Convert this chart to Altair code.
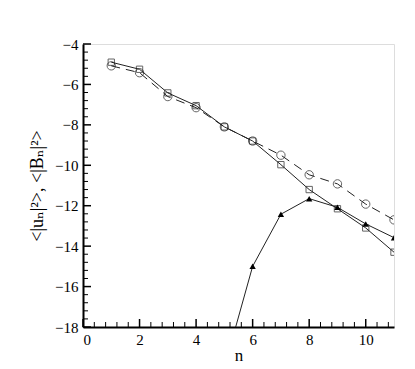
import altair as alt
import pandas as pd

n_vals = [1, 2, 3, 4, 5, 6, 7, 8, 9, 10, 11]
sq_vals = [-4.9, -5.25, -6.42, -7.05, -8.1, -8.8, -9.97, -11.2, -12.15, -13.1, -14.3]
ci_vals = [-5.08, -5.42, -6.6, -7.15, -8.1, -8.8, -9.5, -10.47, -10.92, -11.92, -12.7]
tri_n = [5, 6, 7, 8, 9, 10, 11]
tri_vals = [-20.0, -15.0, -12.42, -11.65, -12.08, -12.9, -13.58]

x_major = [0, 2, 4, 6, 8, 10]
x_minor = [0.4, 0.8, 1.2, 1.6, 2.4, 2.8, 3.2, 3.6, 4.4, 4.8, 5.2, 5.6,
           6.4, 6.8, 7.2, 7.6, 8.4, 8.8, 9.2, 9.6, 10.4, 10.8]
y_major = [-18, -16, -14, -12, -10, -8, -6, -4]
y_minor = [v / 10 for v in range(-180, -40, 4) if v % 20 != 0]

W, H = 311, 283
FONT = "Liberation Serif, DejaVu Serif, serif"

sq = pd.DataFrame({"n": n_vals, "v": sq_vals})
ci = pd.DataFrame({"n": n_vals, "v": ci_vals})
tri = pd.DataFrame({"n": tri_n, "v": tri_vals})

xs = alt.Scale(domain=[0, 11], nice=False, zero=False)
ys = alt.Scale(domain=[-18, -4], nice=False, zero=False)

xax = alt.Axis(values=x_major, ticks=False, domainWidth=2, domainColor="black",
               labelFont=FONT, titleFont=FONT,
               labelFontSize=15, labelColor="black", labelPadding=5,
               title="n", titleFontSize=17, titleFontWeight="normal",
               titleColor="black", titlePadding=0, grid=False)
yax = alt.Axis(values=y_major, ticks=False, domainWidth=2, domainColor="black",
               labelFont=FONT, titleFont=FONT,
               labelFontSize=15, labelColor="black", labelPadding=5,
               title="<|uₙ|²>, <|Bₙ|²>", titleFontSize=18,
               titleFontWeight="normal", titleColor="black", titlePadding=8, grid=False)

X = lambda: alt.X("n:Q", scale=xs, axis=xax)
Y = lambda: alt.Y("v:Q", scale=ys, axis=yax)

line_sq = alt.Chart(sq).mark_line(color="#222", strokeWidth=1, clip=True).encode(x=X(), y=Y())
pt_sq = alt.Chart(sq).mark_point(shape="square", size=40, filled=False, color="#222",
                                 strokeWidth=1, clip=True).encode(x=X(), y=Y())
line_ci = alt.Chart(ci).mark_line(color="#222", strokeWidth=1, strokeDash=[9, 6], clip=True).encode(x=X(), y=Y())
pt_ci = alt.Chart(ci).mark_point(shape="circle", size=70, filled=False, color="#222",
                                 strokeWidth=1, clip=True).encode(x=X(), y=Y())
line_tri = alt.Chart(tri).mark_line(color="#222", strokeWidth=1, clip=True).encode(x=X(), y=Y())
pt_tri = alt.Chart(tri).mark_point(shape="triangle-up", size=40, filled=True, color="black",
                                   opacity=1, clip=True).encode(x=X(), y=Y())

xt_major = alt.Chart(pd.DataFrame({"t": x_major})).mark_rule(color="black", strokeWidth=1.5).encode(
    x=alt.X("t:Q", scale=xs), y=alt.value(H), y2=alt.value(H - 8))
xt_minor = alt.Chart(pd.DataFrame({"t": x_minor})).mark_rule(color="black", strokeWidth=1).encode(
    x=alt.X("t:Q", scale=xs), y=alt.value(H), y2=alt.value(H - 5))
yt_major = alt.Chart(pd.DataFrame({"t": y_major})).mark_rule(color="black", strokeWidth=1.5).encode(
    y=alt.Y("t:Q", scale=ys), x=alt.value(0), x2=alt.value(8))
yt_minor = alt.Chart(pd.DataFrame({"t": y_minor})).mark_rule(color="black", strokeWidth=1).encode(
    y=alt.Y("t:Q", scale=ys), x=alt.value(0), x2=alt.value(5))

chart = alt.layer(
    line_ci, line_sq, line_tri, pt_ci, pt_sq, pt_tri,
    xt_major, xt_minor, yt_major, yt_minor,
).properties(
    width=W, height=H,
    autosize=alt.AutoSizeParams(type="none"),
    padding={"left": 75, "top": 36, "right": 10, "bottom": 36},
    background="white",
).configure_view(stroke="black", strokeWidth=2).configure(font=FONT)

chart.save("out.html", embed_options={"renderer": "svg", "actions": False})
